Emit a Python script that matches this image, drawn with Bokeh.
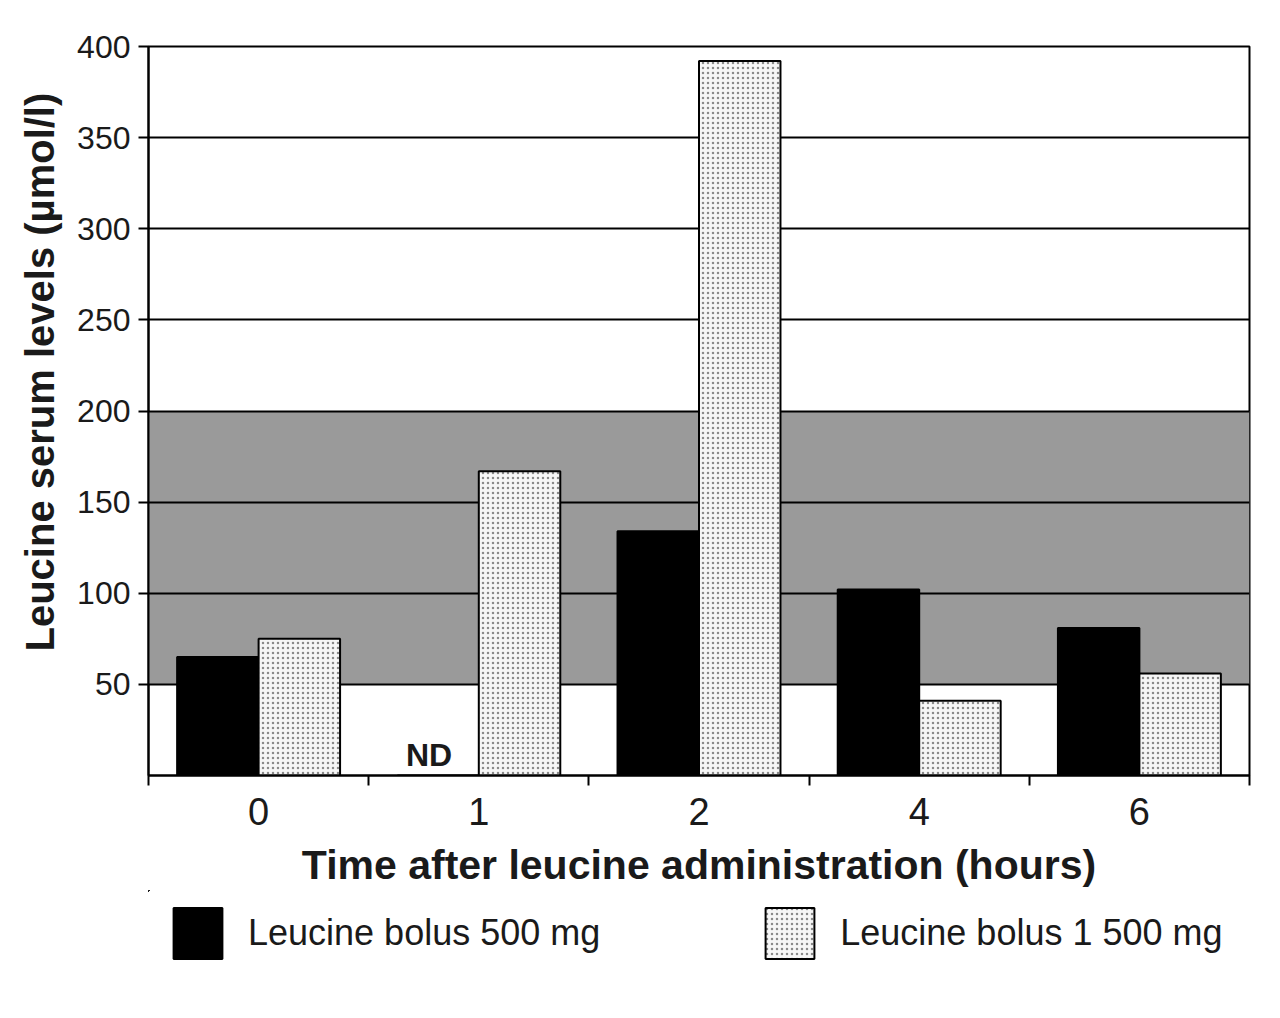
from bokeh.plotting import figure
from bokeh.layouts import column
from bokeh.models import (FixedTicker, BoxAnnotation, Legend, LegendItem, ColumnDataSource,
                          Range1d, Label)
from bokeh.embed import file_html
from bokeh.resources import INLINE

# ---- data ----
times = ["0", "1", "2", "4", "6"]
bolus_500 = [65, 0, 134, 102, 81]          # 1 h: not determined (ND)
bolus_1500 = [75, 167, 392, 41, 56]
nd_flags = [False, True, False, False, False]
y_ticks = [50, 100, 150, 200, 250, 300, 350, 400]
normal_low, normal_high = 50, 200
series_labels = ["Leucine bolus 500 mg", "Leucine bolus 1 500 mg"]
y_title = "Leucine serum levels (µmol/l)"
x_title = "Time after leucine administration (hours)"

FONT = "Liberation Sans"
TXT = "#1a1a1a"

xpos = [i + 0.5 for i in range(len(times))]
bw = 0.37
src = ColumnDataSource(dict(
    x500=[x - bw / 2 for x in xpos],
    x1500=[x + bw / 2 for x in xpos],
    v500=bolus_500, v1500=bolus_1500))

style_500 = dict(fill_color="black", line_color="black", line_width=2)
style_1500 = dict(fill_color="#f6f6f6", line_color="black", line_width=2,
                  hatch_pattern="dot", hatch_color="#8a8a8a", hatch_scale=5, hatch_weight=1)

p = figure(width=1273, height=890, output_backend="svg", toolbar_location=None,
           x_range=Range1d(0, len(times)), y_range=Range1d(0, 400),
           min_border_left=148, min_border_top=46, min_border_right=24,
           min_border_bottom=115)
p.background_fill_color = "white"
p.border_fill_color = "white"
p.outline_line_color = "black"
p.outline_line_width = 2

# normal range band
band = BoxAnnotation(bottom=normal_low, top=normal_high, fill_color="#9a9a9a",
                     fill_alpha=1.0, line_alpha=0, level="image")
p.add_layout(band)

# grid
p.xgrid.visible = False
p.ygrid.ticker = FixedTicker(ticks=y_ticks)
p.ygrid.grid_line_color = "black"
p.ygrid.grid_line_width = 2
p.ygrid.level = "underlay"

p.vbar(x="x500", top="v500", width=bw, source=src, **style_500)
p.vbar(x="x1500", top="v1500", width=bw, source=src, **style_1500)

# ND labels
for i, f in enumerate(nd_flags):
    if f:
        p.add_layout(Label(x=xpos[i] - bw / 2, y=0, text="ND", text_align="center",
                           text_baseline="bottom", x_offset=-9, y_offset=3,
                           text_font=FONT, text_font_style="bold",
                           text_font_size="32px", text_color=TXT))

# axes
p.yaxis.ticker = FixedTicker(ticks=y_ticks)
p.yaxis.major_tick_out = 10
p.yaxis.major_tick_in = 0
p.yaxis.minor_tick_out = 0
p.yaxis.axis_line_width = 2
p.yaxis.major_tick_line_width = 2
p.yaxis.major_label_text_font = FONT
p.yaxis.major_label_text_font_size = "32px"
p.yaxis.major_label_text_color = TXT
p.yaxis.major_label_standoff = 8
p.yaxis.axis_label = "\u00a0" * 7 + y_title
p.yaxis.axis_label_text_font = FONT
p.yaxis.axis_label_text_font_size = "40px"
p.yaxis.axis_label_text_font_style = "bold"
p.yaxis.axis_label_text_color = TXT
p.yaxis.axis_label_standoff = 12

p.xaxis.ticker = FixedTicker(ticks=xpos, minor_ticks=list(range(len(times) + 1)))
p.xaxis.major_label_overrides = {x: t for x, t in zip(xpos, times)}
p.xaxis.major_tick_out = 0
p.xaxis.major_tick_in = 0
p.xaxis.minor_tick_out = 10
p.xaxis.minor_tick_in = 0
p.xaxis.minor_tick_line_width = 2
p.xaxis.minor_tick_line_color = "black"
p.xaxis.axis_line_width = 2
p.xaxis.major_label_text_font = FONT
p.xaxis.major_label_text_font_size = "38px"
p.xaxis.major_label_text_color = TXT
p.xaxis.major_label_standoff = 12
p.xaxis.axis_label = x_title
p.xaxis.axis_label_text_font = FONT
p.xaxis.axis_label_text_font_size = "41px"
p.xaxis.axis_label_text_font_style = "bold"
p.xaxis.axis_label_text_color = TXT
p.xaxis.axis_label_standoff = 14

# ---- legend strip: same series, view ranges set far away so only legend swatches show ----
lf = figure(width=1273, height=120, output_backend="svg", toolbar_location=None,
            x_range=Range1d(1000, 1005), y_range=Range1d(-1000, -999),
            x_axis_type=None, y_axis_type=None, min_border=0)
lf.outline_line_alpha = 0
lf.xgrid.visible = False
lf.ygrid.visible = False
lf.background_fill_color = "white"
lf.border_fill_color = "white"
l1 = lf.vbar(x="x500", top="v500", width=bw, source=src, **style_500)
l2 = lf.vbar(x="x1500", top="v1500", width=bw, source=src, **style_1500)

legend = Legend(items=[LegendItem(label=series_labels[0], renderers=[l1]),
                       LegendItem(label=series_labels[1], renderers=[l2])],
                orientation="horizontal", location=(19, 45),
                glyph_width=61, glyph_height=64, label_standoff=20, spacing=159,
                label_text_font=FONT, label_text_font_size="36px",
                label_text_color=TXT, border_line_alpha=0,
                background_fill_alpha=0, padding=0, margin=0)
lf.add_layout(legend, "center")

layout = column(p, lf, spacing=0)
open("out.html", "w").write(file_html(layout, INLINE))
